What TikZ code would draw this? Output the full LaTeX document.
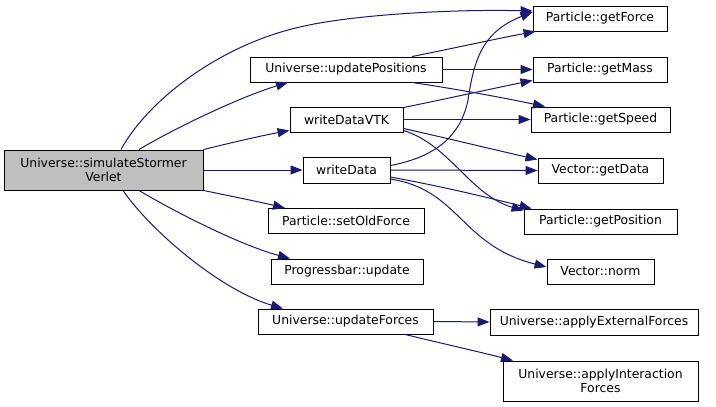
\documentclass[tikz,border=0pt]{standalone}
\usepackage{fontspec}
\setmainfont{DejaVu Sans}
\usetikzlibrary{arrows.meta}
\definecolor{edgeblue}{HTML}{191970}
\definecolor{maingrey}{HTML}{BFBFBF}
\tikzset{
  fnbox/.style={draw=black, line width=0.9pt, fill=white, inner sep=0pt, align=center,
    font=\fontsize{12.4}{14}\selectfont},
  call/.style={draw=edgeblue, line width=1pt, -{Triangle[length=12pt,width=9pt]}},
}
\begin{document}
\begin{tikzpicture}[x=1pt,y=-1pt]
\useasboundingbox (0,0) rectangle (716,407);
% nodes
\node[fnbox, fill=maingrey, minimum width=199pt, minimum height=40pt] (main) at (103.5,170) {Universe::simulateStormer\\Verlet};
\node[fnbox, minimum width=192pt, minimum height=25pt] (updPos) at (346,69.5) {Universe::updatePositions};
\node[fnbox, minimum width=113pt, minimum height=25pt] (wdVTK) at (346.5,119.5) {writeDataVTK};
\node[fnbox, minimum width=87pt, minimum height=26pt] (wd) at (346.5,170) {writeData};
\node[fnbox, minimum width=156pt, minimum height=25pt] (setOld) at (346,221) {Particle::setOldForce};
\node[fnbox, minimum width=152pt, minimum height=25pt] (prog) at (347,271.5) {Progressbar::update};
\node[fnbox, minimum width=175pt, minimum height=25pt] (updF) at (345.5,321.5) {Universe::updateForces};
\node[fnbox, minimum width=134pt, minimum height=25pt] (getF) at (600,18.5) {Particle::getForce};
\node[fnbox, minimum width=134pt, minimum height=25pt] (getM) at (600,69.5) {Particle::getMass};
\node[fnbox, minimum width=139pt, minimum height=25pt] (getS) at (600.5,119.5) {Particle::getSpeed};
\node[fnbox, minimum width=125pt, minimum height=25pt] (getD) at (600.5,170.5) {Vector::getData};
\node[fnbox, minimum width=153pt, minimum height=25pt] (getP) at (600.5,221.5) {Particle::getPosition};
\node[fnbox, minimum width=107pt, minimum height=25pt] (norm) at (600.5,271.5) {Vector::norm};
\node[fnbox, minimum width=208pt, minimum height=26pt] (extF) at (594,322) {Universe::applyExternalForces};
\node[fnbox, minimum width=195pt, minimum height=40pt] (intF) at (600.5,381) {Universe::applyInteraction\\Forces};
% edges from main
\draw[call] ([xshift=17.5pt]main.north) .. controls (148,100) and (220,45) .. (300,27)
  .. controls (350,15) and (450,9) .. ([yshift=7.5pt]getF.west);
\draw[call] ([xshift=35.5pt]main.north) .. controls (175,128) and (240,97) .. ([xshift=-58pt]updPos.south);
\draw[call] (main.north east) .. controls (230,143) and (260,136) .. ([yshift=2pt]wdVTK.south west);
\draw[call] (main.east) -- (wd.west);
\draw[call] (main.south east) .. controls (230,196) and (260,202) .. ([xshift=-61pt]setOld.north);
\draw[call] ([xshift=35.5pt]main.south) .. controls (175,212) and (240,245) .. ([xshift=-57pt]prog.north);
\draw[call] ([xshift=19.5pt]main.south) .. controls (150,230) and (220,290) .. ([xshift=-62.5pt]updF.north);
% updatePositions
\draw[call] ([xshift=66pt]updPos.north) .. controls (450,49) and (500,38) .. ([xshift=3pt]getF.south west);
\draw[call] (updPos.east) -- (getM.west);
\draw[call] ([xshift=66pt]updPos.south) .. controls (450,88) and (500,97) .. ([xshift=-55.5pt]getS.north);
% writeDataVTK
\draw[call] ([yshift=-1pt]wdVTK.north east) .. controls (450,98) and (500,87) .. ([yshift=2pt]getM.south west);
\draw[call] (wdVTK.east) -- (getS.west);
\draw[call] ([yshift=4pt]wdVTK.south east) .. controls (450,139) and (500,151) .. ([yshift=-2pt]getD.north west);
\draw[call] ([yshift=2pt]wdVTK.south east) .. controls (450,145) and (470,195) .. ([yshift=-2pt]getP.north west);
% writeData
\draw[call] ([yshift=4.5pt]wd.east) .. controls (430,158) and (460,140) .. (468,100)
  .. controls (474,60) and (482,32) .. ([yshift=-6.5pt]getF.north west);
\draw[call] (wd.east) -- (getD.west);
\draw[call] ([yshift=-7pt]wd.east) .. controls (440,186) and (490,198) .. ([xshift=8pt]getP.north west);
\draw[call] ([yshift=-9pt]wd.east) .. controls (460,190) and (460,245) .. ([yshift=4.5pt]norm.west);
% updateForces
\draw[call] (updF.east) -- (extF.west);
\draw[call] ([xshift=59.5pt]updF.south) .. controls (440,343) and (480,352) .. ([xshift=-87.5pt]intF.north);
\end{tikzpicture}
\end{document}
